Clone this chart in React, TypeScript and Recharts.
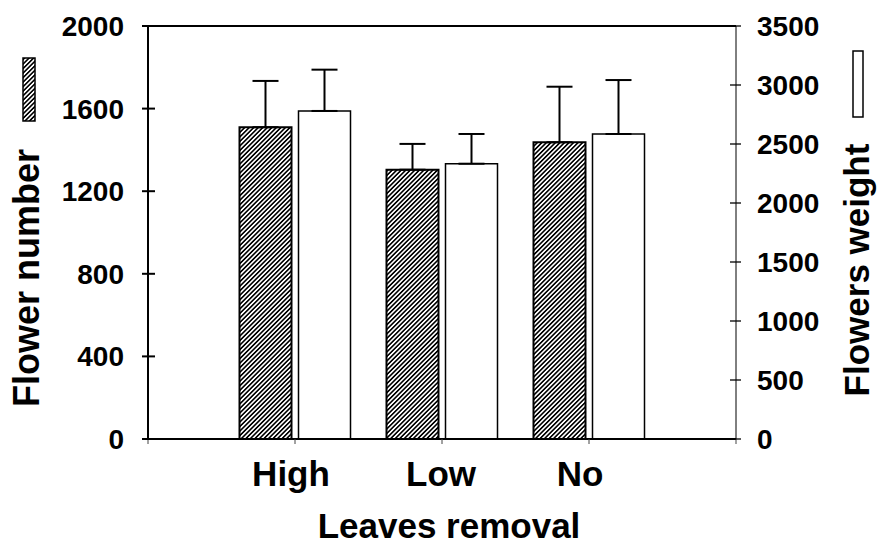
import React from 'react';
import { ComposedChart, Bar, XAxis, YAxis, ErrorBar, ReferenceLine } from 'recharts';

const categories = ['High', 'Low', 'No'];
const flowerNumber = [1510, 1304, 1437];
const flowerNumberErr = [224, 125, 269];
const flowersWeight = [2780, 2333, 2585];
const flowersWeightErr = [350, 252, 457];
const leftTicks = [0, 400, 800, 1200, 1600, 2000];
const rightTicks = [0, 500, 1000, 1500, 2000, 2500, 3000, 3500];
const xTicks = [0, 1, 2, 3, 4];

const data = categories.map((c, i) => ({
  x: i + 1,
  name: c,
  n: flowerNumber[i],
  nErr: [0, flowerNumberErr[i]],
  w: flowersWeight[i],
  wErr: [0, flowersWeightErr[i]],
}));

const FONT = '"Liberation Sans", Arial, sans-serif';
const labelShift: Record<string, number> = { High: -4, Low: -1, No: -9 };

const LeftTick = (props: any) => {
  const { x, y, payload } = props;
  return (
    <g>
      <line x1={x - 6} x2={x + 7} y1={y} y2={y} stroke="#000" strokeWidth={2} />
      <text x={x - 24} y={y} dy={10} textAnchor="end" fontFamily={FONT} fontWeight="bold" fontSize={28} fill="#000">
        {payload.value}
      </text>
    </g>
  );
};

const RightTick = (props: any) => {
  const { x, y, payload } = props;
  return (
    <g>
      <line x1={x - 6} x2={x + 5} y1={y} y2={y} stroke="#000" strokeWidth={1.3} />
      <text x={x + 21} y={y} dy={10} textAnchor="start" fontFamily={FONT} fontWeight="bold" fontSize={28} fill="#000">
        {payload.value}
      </text>
    </g>
  );
};

const BottomTick = (props: any) => {
  const { x, y, payload } = props;
  const idx = payload.value - 1;
  const label = idx >= 0 && idx < categories.length ? categories[idx] : '';
  return (
    <g>
      <line x1={x} x2={x} y1={y} y2={y + 5} stroke="#444" strokeWidth={1} />
      {label && (
        <text x={x + (labelShift[label] || 0)} y={y} dy={47} textAnchor="middle" fontFamily={FONT} fontWeight="bold" fontSize={35} fill="#000">
          {label}
        </text>
      )}
    </g>
  );
};

const LeftLabel = () => (
  <g>
    <rect x={23} y={58} width={12} height={63} fill="url(#hatch)" stroke="#000" strokeWidth={1.5} />
    <text x={39} y={278} transform="rotate(-90 39 278)" textAnchor="middle" fontFamily={FONT} fontWeight="bold" fontSize={36} fill="#000">
      Flower number
    </text>
  </g>
);

const RightLabel = () => (
  <g>
    <rect x={853} y={51} width={10} height={66} fill="#fff" stroke="#000" strokeWidth={1.5} />
    <text x={869} y={270} transform="rotate(-90 869 270)" textAnchor="middle" fontFamily={FONT} fontWeight="bold" fontSize={35} fill="#000">
      Flowers weight
    </text>
  </g>
);

const BottomLabel = () => (
  <text x={449} y={538} textAnchor="middle" fontFamily={FONT} fontWeight="bold" fontSize={35} fill="#000">
    Leaves removal
  </text>
);

export default function App() {
  return (
    <div style={{ position: 'absolute', left: 0, top: 0, width: 877, height: 546, background: '#fff' }}>
      <ComposedChart
        width={877}
        height={546}
        data={data}
        margin={{ top: 26, right: 0, bottom: 0, left: 0 }}
        barSize={52}
        barGap={7}
      >
        <defs>
          <pattern id="hatch" patternUnits="userSpaceOnUse" width={3.2} height={3.2} patternTransform="rotate(45)">
            <rect x={0} y={0} width={3.2} height={3.2} fill="#fff" />
            <rect x={0} y={0} width={1.6} height={3.2} fill="#000" />
          </pattern>
        </defs>
        <XAxis
          dataKey="x"
          type="number"
          domain={[0, 4]}
          ticks={xTicks}
          interval={0}
          height={107}
          axisLine={{ stroke: '#000', strokeWidth: 2 }}
          tickLine={false}
          tickSize={0}
          tickMargin={0}
          tick={<BottomTick />}
          label={<BottomLabel />}
        />
        <YAxis
          yAxisId="left"
          orientation="left"
          width={148}
          domain={[0, 2000]}
          ticks={leftTicks}
          interval={0}
          axisLine={{ stroke: '#000', strokeWidth: 2 }}
          tickLine={false}
          tickSize={0}
          tickMargin={0}
          tick={<LeftTick />}
          label={<LeftLabel />}
        />
        <YAxis
          yAxisId="right"
          orientation="right"
          width={141}
          domain={[0, 3500]}
          ticks={rightTicks}
          interval={0}
          axisLine={{ stroke: '#000', strokeWidth: 1 }}
          tickLine={false}
          tickSize={0}
          tickMargin={0}
          tick={<RightTick />}
          label={<RightLabel />}
        />
        <ReferenceLine yAxisId="left" y={2000} stroke="#000" strokeWidth={2} />
        <Bar dataKey="n" yAxisId="left" fill="url(#hatch)" stroke="#000" strokeWidth={2} isAnimationActive={false}>
          <ErrorBar dataKey="nErr" direction="y" width={13} stroke="#000" strokeWidth={2} isAnimationActive={false} />
        </Bar>
        <Bar dataKey="w" yAxisId="right" fill="#fff" stroke="#000" strokeWidth={1.5} isAnimationActive={false}>
          <ErrorBar dataKey="wErr" direction="y" width={13} stroke="#000" strokeWidth={2} isAnimationActive={false} />
        </Bar>
      </ComposedChart>
    </div>
  );
}
